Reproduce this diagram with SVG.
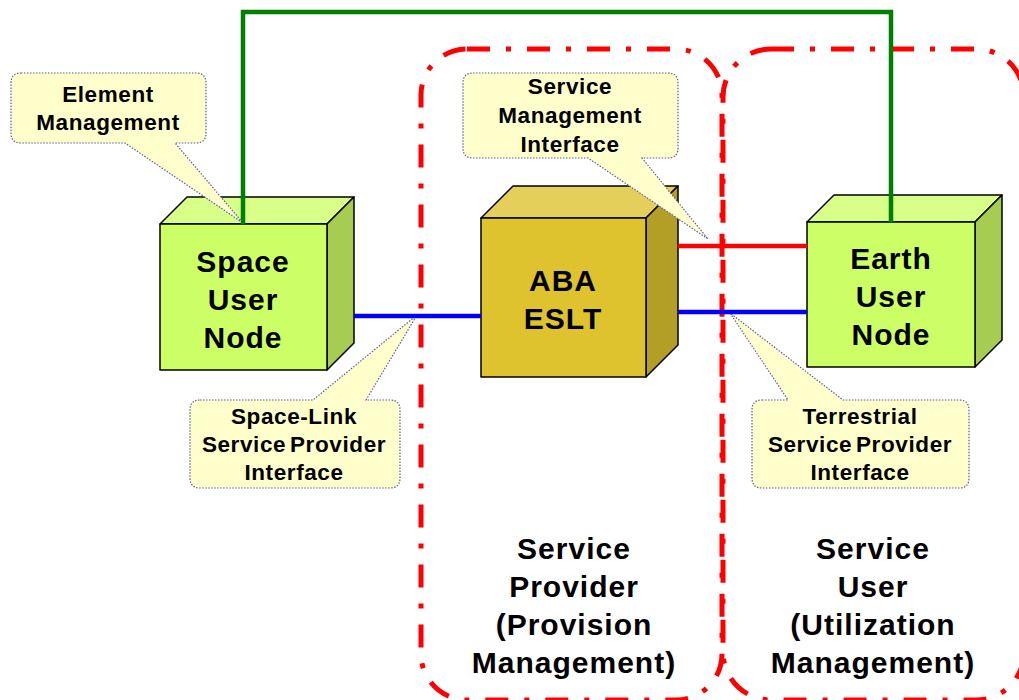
<svg xmlns="http://www.w3.org/2000/svg" width="1019" height="700" viewBox="0 0 1019 700">
  <style>
    .region { fill: none; stroke: #FF0000; stroke-width: 5; stroke-dasharray: 23 16 5 16; }
    .edge { fill: none; stroke-width: 4.5; }
    .cube path { stroke: #000; stroke-width: 1.5; stroke-linejoin: round; }
    .callout { fill: #FFFFCC; stroke: #5A5AA8; stroke-width: 1.2; stroke-dasharray: 1.5 1.5; }
    .node-label { font-family: "Liberation Sans", Arial, sans-serif; font-weight: bold; font-size: 30px; letter-spacing: 1px; text-anchor: middle; fill: #000; }
    .note-label { font-family: "Liberation Sans", Arial, sans-serif; font-weight: bold; font-size: 22.5px; letter-spacing: 0.6px; word-spacing: -3px; text-anchor: middle; fill: #000; }
  </style>

  <!-- management domains -->
  <g id="domain-provider">
    <rect class="region" x="421" y="49" width="301" height="651" rx="46" ry="46"/>
    <text class="node-label" x="574" y="559">Service</text>
    <text class="node-label" x="574" y="597">Provider</text>
    <text class="node-label" x="574" y="635">(Provision</text>
    <text class="node-label" x="574" y="673">Management)</text>
  </g>
  <g id="domain-user">
    <rect class="region" x="723" y="49" width="301" height="651" rx="48" ry="48"/>
    <text class="node-label" x="873" y="559">Service</text>
    <text class="node-label" x="873" y="597">User</text>
    <text class="node-label" x="873" y="635">(Utilization</text>
    <text class="node-label" x="873" y="673">Management)</text>
  </g>

  <!-- nodes -->
  <g id="space-user-node" class="cube">
    <path d="M160,224 L187,197 L354,197 L327,224 Z" fill="#D8FF88"/>
    <path d="M327,224 L354,197 L354,343 L327,370 Z" fill="#A6CC52"/>
    <path d="M160,224 H327 V370 H160 Z" fill="#CCFF66"/>
    <text class="node-label" x="243" y="272">Space</text>
    <text class="node-label" x="243" y="310">User</text>
    <text class="node-label" x="243" y="348">Node</text>
  </g>
  <g id="aba-eslt" class="cube">
    <path d="M481,218 L513,186 L678,186 L646,218 Z" fill="#E4CF5A"/>
    <path d="M646,218 L678,186 L678,345 L646,377 Z" fill="#B49F26"/>
    <path d="M481,218 H646 V377 H481 Z" fill="#DEC22E"/>
    <text class="node-label" x="563" y="291">ABA</text>
    <text class="node-label" x="563" y="329">ESLT</text>
  </g>
  <g id="earth-user-node" class="cube">
    <path d="M807,222 L834,195 L1002,195 L975,222 Z" fill="#D8FF88"/>
    <path d="M975,222 L1002,195 L1002,340 L975,367 Z" fill="#A6CC52"/>
    <path d="M807,222 H975 V367 H807 Z" fill="#CCFF66"/>
    <text class="node-label" x="891" y="269">Earth</text>
    <text class="node-label" x="891" y="307">User</text>
    <text class="node-label" x="891" y="345">Node</text>
  </g>

  <!-- callouts -->
  <g id="note-element-management">
    <path class="callout" d="M21,73 H196 Q206,73 206,83 V133 Q206,143 196,143 H175 L243,223 L125,143 H21 Q11,143 11,133 V83 Q11,73 21,73 Z"/>
    <text class="note-label" x="108" y="102">Element</text>
    <text class="note-label" x="108" y="130">Management</text>
  </g>
  <g id="note-service-management">
    <path class="callout" d="M473,73 H668 Q678,73 678,83 V148 Q678,158 668,158 H642 L708,239 L588,158 H473 Q463,158 463,148 V83 Q463,73 473,73 Z"/>
    <text class="note-label" x="570" y="94">Service</text>
    <text class="note-label" x="570" y="123">Management</text>
    <text class="note-label" x="570" y="152">Interface</text>
  </g>
  <g id="note-space-link">
    <path class="callout" d="M200,400 H313 L417,315 L366,400 H390 Q400,400 400,410 V478 Q400,488 390,488 H200 Q190,488 190,478 V410 Q190,400 200,400 Z"/>
    <text class="note-label" x="294" y="424">Space-Link</text>
    <text class="note-label" x="294" y="452">Service Provider</text>
    <text class="note-label" x="294" y="480">Interface</text>
  </g>
  <g id="note-terrestrial">
    <path class="callout" d="M762,400 H788 L730,313 L843,400 H959 Q969,400 969,410 V478 Q969,488 959,488 H762 Q752,488 752,478 V410 Q752,400 762,400 Z"/>
    <text class="note-label" x="860" y="424">Terrestrial</text>
    <text class="note-label" x="860" y="452">Service Provider</text>
    <text class="note-label" x="860" y="480">Interface</text>
  </g>

  <!-- connectors -->
  <g id="connectors">
    <path class="edge" stroke="#008000" d="M243,224 V12 H891 V222"/>
    <path class="edge" stroke="#0000FF" d="M354,316 H481"/>
    <path class="edge" stroke="#0000FF" d="M678,312 H807"/>
    <path class="edge" stroke="#FF0000" d="M678,246 H807"/>
  </g>
</svg>
